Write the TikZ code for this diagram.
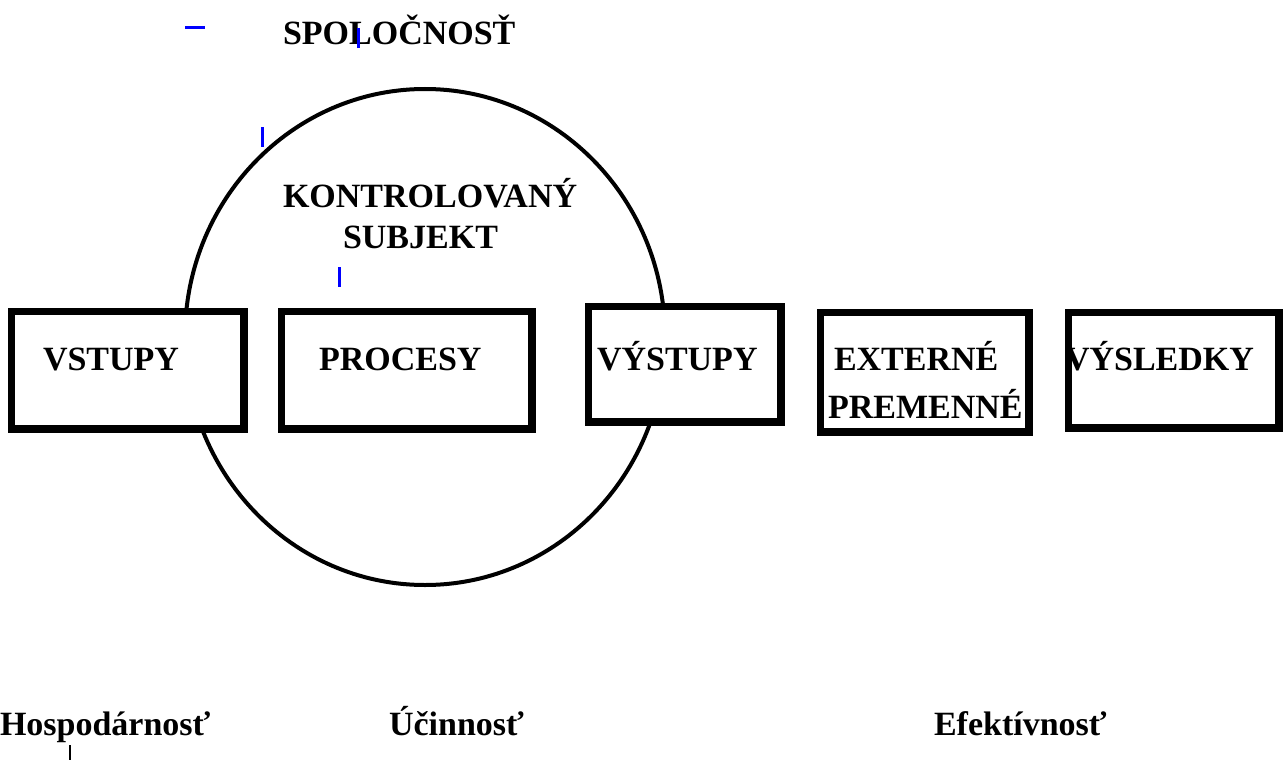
\documentclass[tikz,border=0pt]{standalone}
\usepackage{fontspec}
\setmainfont{Liberation Serif}
\begin{document}
\begin{tikzpicture}[x=1pt,y=-1pt,
  boxnode/.style={draw=black,fill=white,line width=5pt,minimum width=#1,inner sep=0pt},
  lbl/.style={anchor=base west,inner sep=0pt,outer sep=0pt,font=\fontsize{34}{40}\selectfont\bfseries},
  bluemark/.style={draw=markblue,line width=3pt},
  blackmark/.style={draw=black,line width=2.5pt}]
\definecolor{markblue}{RGB}{0,0,255}
\fill[white] (0,0) rectangle (1286,760);
\useasboundingbox (0,0) rectangle (1286,760);
% circle of the controlled subject
\draw[line width=4pt] (425,337) ellipse [x radius=240, y radius=248];
% boxes
\node[boxnode=230pt,minimum height=115pt] (b1) at (127.5,370) {};
\node[boxnode=248pt,minimum height=115pt] (b2) at (406.5,370) {};
\node[boxnode=190pt,minimum height=113pt] (b3) at (684.5,364) {};
\node[boxnode=206pt,minimum height=117pt] (b4) at (924.5,372) {};
\node[boxnode=208pt,minimum height=113pt] (b5) at (1173.5,370) {};
% texts
\node[lbl] (t0) at (283,45) {SPOLOČNOSŤ};
\node[lbl] (t1) at (283,207) {KONTROLOVANÝ};
\node[lbl] (t2) at (343,248) {SUBJEKT};
\node[lbl] (t3) at (43,370) {VSTUPY};
\node[lbl] (t4) at (319,370) {PROCESY};
\node[lbl] (t5) at (597,370) {VÝSTUPY};
\node[lbl] (t6) at (834,370) {EXTERNÉ};
\node[lbl] (t7) at (828,418) {PREMENNÉ};
\node[lbl] (t8) at (1065,370) {VÝSLEDKY};
\node[lbl] (t9) at (0,735) {Hospodárnosť};
\node[lbl] (t10) at (389,735) {Účinnosť};
\node[lbl] (t11) at (934,735) {Efektívnosť};
% box frames over texts
\foreach \b in {b1,b2,b3,b4,b5}
  \draw[line width=5pt] (\b.south west) rectangle (\b.north east);
% small marks
\coordinate (m1a) at (185,28); \coordinate (m1b) at (205,28);
\coordinate (m2a) at (358,28); \coordinate (m2b) at (358,48);
\coordinate (m3a) at (262,127); \coordinate (m3b) at (262,147);
\coordinate (m4a) at (339,267); \coordinate (m4b) at (339,287);
\coordinate (m5a) at (70,745); \coordinate (m5b) at (70,760);
\draw[bluemark] (m1a) -- (m1b);
\draw[bluemark] (m2a) -- (m2b);
\draw[bluemark] (m3a) -- (m3b);
\draw[bluemark] (m4a) -- (m4b);
\draw[blackmark] (m5a) -- (m5b);
\end{tikzpicture}
\end{document}
